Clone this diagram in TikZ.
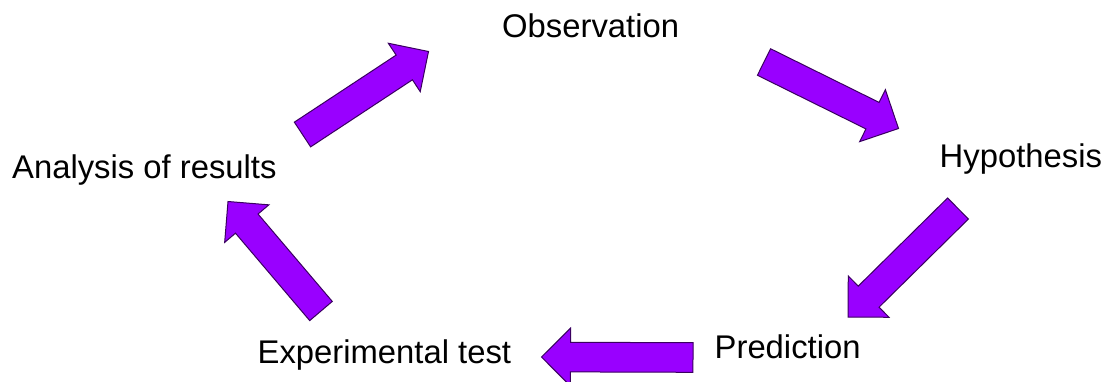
\documentclass[tikz,border=0pt]{standalone}
\usepackage{fontspec}
\setmainfont{Liberation Sans}
\usetikzlibrary{calc}
\definecolor{arrowfill}{HTML}{9900FF}
\definecolor{arrowline}{HTML}{3A0060}
\tikzset{
  lbl/.style={inner sep=0pt, anchor=base west, font=\fontsize{32.8}{40}\selectfont, text=black},
  barrow/.style={draw=arrowline, fill=arrowfill, line width=1pt, line join=miter}
}
% #1 tail, #2 tip, #3 name
\newcommand\blockarrow[3]{%
  \coordinate (#3b) at ($(#2)!29pt!(#1)$);
  \draw[barrow]
    ($(#1)!14.8pt!90:(#2)$) -- ($(#3b)!14.8pt!90:(#2)$) -- ($(#3b)!29pt!90:(#2)$)
    -- (#2)
    -- ($(#3b)!29pt!-90:(#2)$) -- ($(#3b)!14.8pt!-90:(#2)$) -- ($(#1)!14.8pt!-90:(#2)$)
    -- cycle;}
\begin{document}
\begin{tikzpicture}[x=1pt,y=-1pt]
  \useasboundingbox[fill=white] (0,0) rectangle (1109,381);
  % labels
  \node[lbl] (obs) at (502,37) {Observation};
  \node[lbl] (hyp) at (939.5,167) {Hypothesis};
  \node[lbl] (pre) at (714.5,358) {Prediction};
  \node[lbl] (exp) at (257.5,363) {Experimental test};
  \node[lbl] (ana) at (12,178) {Analysis of results};
  % arrow end points
  \coordinate (t1) at (302.5,134.5); \coordinate (h1) at (428.5,51.5);
  \coordinate (t2) at (764,62);      \coordinate (h2) at (898.5,128.5);
  \coordinate (t3) at (958,208.5);   \coordinate (h3) at (848,317);
  \coordinate (t4) at (693,357.5);   \coordinate (h4) at (541.5,357);
  \coordinate (t5) at (321,311);     \coordinate (h5) at (228,201.5);
  % block arrows
  \blockarrow{t1}{h1}{a1}
  \blockarrow{t2}{h2}{a2}
  \blockarrow{t3}{h3}{a3}
  \blockarrow{t4}{h4}{a4}
  \blockarrow{t5}{h5}{a5}
\end{tikzpicture}
\end{document}
